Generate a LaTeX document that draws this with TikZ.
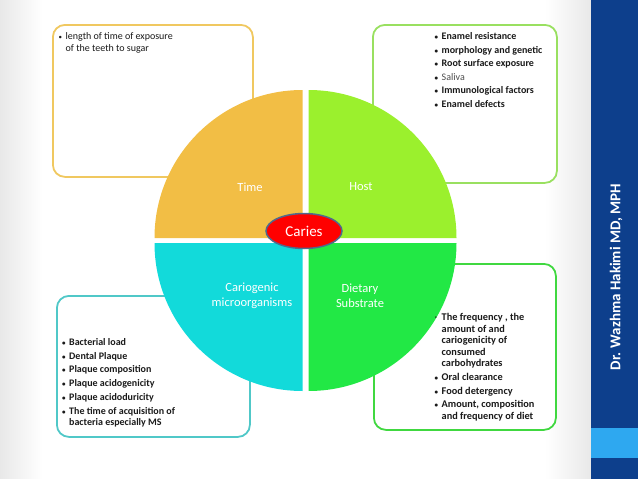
\documentclass[tikz,border=0pt]{standalone}
\usepackage{fontspec}
\setmainfont{Carlito}
\usetikzlibrary{shapes.geometric}
\definecolor{timeC}{HTML}{F2BE45}
\definecolor{hostC}{HTML}{9BF02D}
\definecolor{carioC}{HTML}{12DADA}
\definecolor{dietC}{HTML}{22E845}
\definecolor{timeB}{HTML}{F0C860}
\definecolor{hostB}{HTML}{99E060}
\definecolor{carioB}{HTML}{50C8C8}
\definecolor{dietB}{HTML}{40D840}
\definecolor{barC}{HTML}{0D3F8C}
\definecolor{barL}{HTML}{2EA8F0}
\definecolor{cariesB}{HTML}{4F6A8C}
\definecolor{txt}{HTML}{1A1A1A}
\newcommand{\bul}{{\fontsize{7}{7}\selectfont\textbullet}}
\begin{document}
\begin{tikzpicture}[x=1pt,y=-1pt,
  infobox/.style={draw, line width=1.8pt, fill=white, rounded corners=12pt, anchor=north west, inner sep=0pt},
  qlabel/.style={text=white, font=\fontsize{12.5}{15}\selectfont, align=center, inner sep=0pt},
  listtext/.style={anchor=base west, inner sep=0pt, text=txt}]
\useasboundingbox (0,0) rectangle (638,479);
% background shading
\shade[left color=black!9, right color=white] (0,0) rectangle (42,479);
\shade[left color=white, right color=black!9] (545,0) rectangle (591,479);
% boxes
\node[infobox, draw=timeB, minimum width=200pt, minimum height=152pt] (tbox) at (52,24) {};
\node[infobox, draw=hostB, minimum width=184pt, minimum height=158pt] (hbox) at (372,24) {};
\node[infobox, draw=carioB, minimum width=193pt, minimum height=141pt] (cbox) at (56,295) {};
\node[infobox, draw=dietB, minimum width=182pt, minimum height=166pt] (dbox) at (373,263) {};
% quadrants
\fill[timeC] (302.5,238) -- ++(-148,0) arc[start angle=180, end angle=270, radius=148] -- cycle;
\fill[hostC] (308.5,238) -- ++(148,0) arc[start angle=0, end angle=-90, radius=148] -- cycle;
\fill[carioC] (302.5,243) -- ++(-148,0) arc[start angle=180, end angle=90, radius=148] -- cycle;
\fill[dietC] (308.5,243) -- ++(148,0) arc[start angle=0, end angle=90, radius=148] -- cycle;
% quadrant labels
\node[qlabel] (ltime) at (250,187) {Time};
\node[qlabel] (lhost) at (361,187) {Host};
\node[qlabel] (lcario) at (252,296) {Cariogenic\\microorganisms};
\node[qlabel] (ldiet) at (360,296) {Dietary\\Substrate};
% center
\node[ellipse, fill=red, draw=cariesB, line width=1.5pt, minimum width=76pt, minimum height=35pt, inner sep=0pt,
  text=white, font=\fontsize{15}{18}\selectfont] (caries) at (304,231) {Caries};
% lists
\node[listtext, font=\fontsize{10}{12}\selectfont] (ttext) at (58.5,39.5) {%
  \begin{tabular}[t]{@{}l@{\hspace{3.5pt}}l@{}}
  \bul & length of time of exposure\\
  & of the teeth to sugar
  \end{tabular}};
\node[listtext, font=\bfseries\fontsize{10}{13.6}\selectfont] (htext) at (434.5,39.5) {%
  \begin{tabular}[t]{@{}l@{\hspace{3.5pt}}l@{}}
  \bul & Enamel resistance\\
  \bul & morphology and genetic\\
  \bul & Root surface exposure\\
  \bul & {\mdseries\color{black!70}Saliva}\\
  \bul & Immunological factors\\
  \bul & Enamel defects
  \end{tabular}};
\node[listtext, font=\bfseries\fontsize{10}{13.7}\selectfont] (ctext) at (62,345.5) {%
  \begin{tabular}[t]{@{}l@{\hspace{3.5pt}}l@{}}
  \bul & Bacterial load\\
  \bul & Dental Plaque\\
  \bul & Plaque composition\\
  \bul & Plaque acidogenicity\\
  \bul & Plaque acidoduricity\\
  \bul & The time of acquisition of\\[-2.7pt]
  & bacteria especially MS
  \end{tabular}};
\node[listtext, font=\bfseries\fontsize{10.3}{13.8}\selectfont] (dtext) at (434.5,320.5) {%
  \begin{tabular}[t]{@{}l@{\hspace{3.5pt}}l@{}}
  {\mdseries ·} & The frequency , the\\[-2.3pt]
  & amount of and\\[-2.3pt]
  & cariogenicity of\\[-2.3pt]
  & consumed\\[-2.3pt]
  & carbohydrates\\
  \bul & Oral clearance\\
  \bul & Food detergency\\
  \bul & Amount, composition\\[-2.3pt]
  & and frequency of diet
  \end{tabular}};
% side bar
\fill[barC] (591,0) rectangle (638,479);
\fill[barL] (591,428) rectangle (638,458);
\node[rotate=90, text=white, font=\bfseries\fontsize{15}{18}\selectfont, inner sep=0pt] (author) at (616,277) {Dr. Wazhma Hakimi MD, MPH};
\end{tikzpicture}
\end{document}
